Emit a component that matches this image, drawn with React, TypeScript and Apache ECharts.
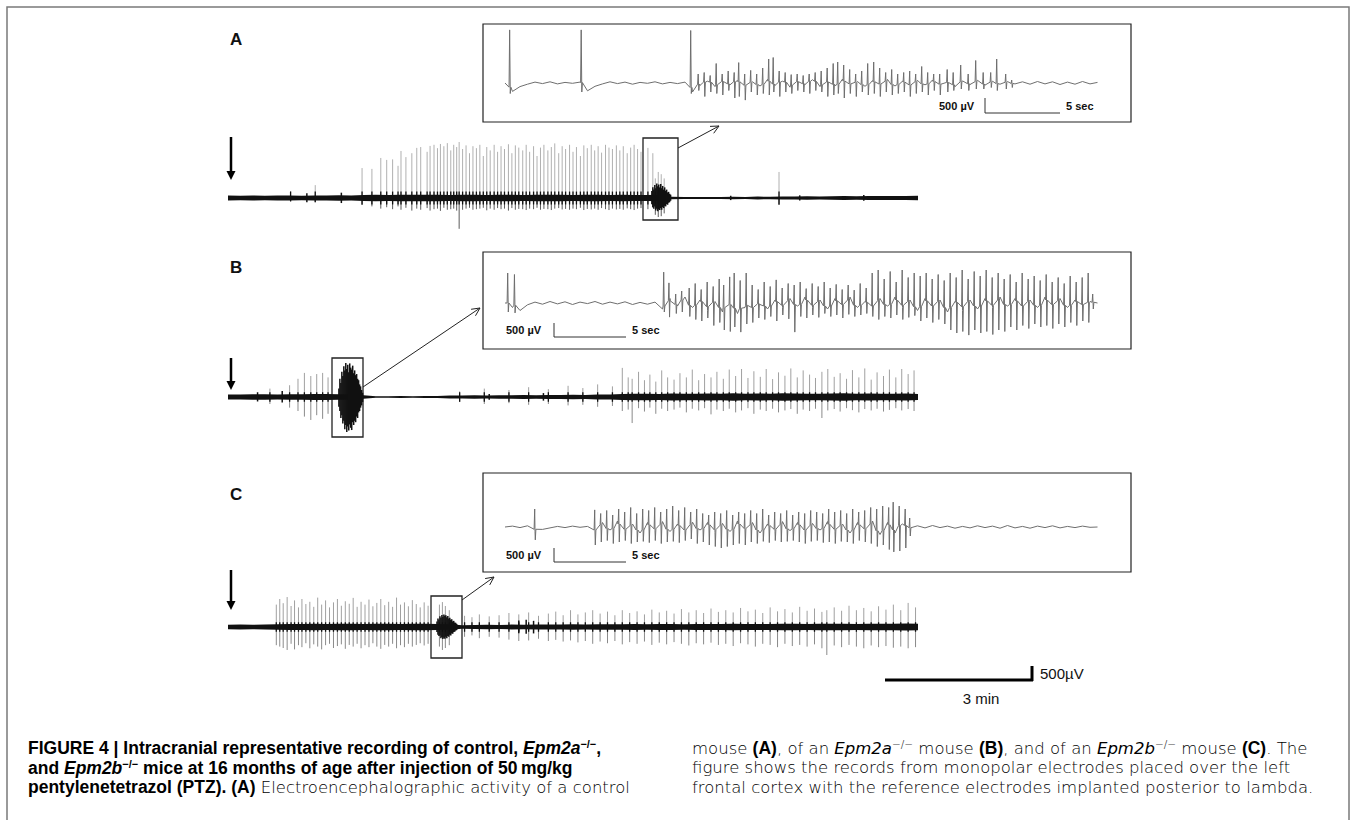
import React, { useEffect, useRef } from "react";
import * as echarts from "echarts";

// ---------- time bases (typed) ----------
const bandTimes = [0,0.25,0.5,0.75,1,1.25,1.5,1.75,2,2.25,2.5,2.75,3,3.25,3.5,3.75,4,4.25,4.5,4.75,5,5.25,5.5,5.75,6,6.25,6.5,6.75,7,7.25,7.5,7.75,8,8.25,8.5,8.75,9,9.25,9.5,9.75,10,10.25,10.5,10.75,11,11.25,11.5,11.75,12,12.25,12.5,12.75,13,13.25,13.5,13.75,14];
const insetTimes = [0,0.5,1,1.5,2,2.5,3,3.5,4,4.5,5,5.5,6,6.5,7,7.5,8,8.5,9,9.5,10,10.5,11,11.5,12,12.5,13,13.5,14,14.5,15,15.5,16,16.5,17,17.5,18,18.5,19,19.5,20,20.5,21,21.5,22,22.5,23,23.5,24,24.5,25,25.5,26,26.5,27,27.5,28,28.5,29,29.5,30,30.5,31,31.5,32,32.5,33,33.5,34,34.5,35,35.5,36,36.5,37,37.5,38,38.5,39,39.5];

// ---------- main traces (minutes, µV) ----------
const bandA = [85,80,90,80,85,90,80,85,90,95,90, 110,115,110,120,115,120,115,110,120,115,110,115,120,110,115,120,115,110,115,120,110,115,110,105, 120, 45,35,35,40,35,45,40,50,45,55,50,60,55,60,70,65,70,75,70,75,80];
const burstA = [[8.60,250,-220],[8.62,380,-320],[8.64,300,-380],[8.66,460,-300],[8.68,350,-450],[8.70,520,-380],[8.72,420,-470],[8.74,480,-400],[8.76,380,-430],[8.78,500,-360],[8.80,350,-420],[8.82,430,-330],[8.84,300,-360],[8.86,380,-280],[8.88,260,-300],[8.90,300,-220],[8.92,200,-240],[8.94,220,-170],[8.96,150,-150],[8.98,120,-100],
  [1.6,170,-150],[2.3,190,-180],[10.2,80,-75],[11.6,95,-90],[12.9,110,-100]];
const spikesA = [[1.27,250,-120],[1.77,460,-150],[2.72,1070,-250],[2.92,1040,-300],[3.10,1430,-380],[3.22,1360,-330],[3.34,1380,-400],[3.45,1150,-300],[3.51,1680,-420],[3.61,1460,-350],[3.73,1600,-450],[3.83,1790,-380],[3.91,1820,-420],[4.04,1650,-360],[4.10,1860,-450],[4.18,1900,-400],[4.25,1780,-380],[4.31,1930,-460],[4.38,1850,-350],[4.45,1960,-420],[4.52,1700,-400],[4.58,1900,-380],[4.64,1820,-450],[4.69,2000,-1100],[4.76,1750,-420],[4.83,1880,-380],[4.90,1600,-350],[4.97,1850,-420],[5.04,1780,-400],[5.11,1900,-380],[5.18,1500,-350],[5.25,1820,-440],[5.32,1700,-380],[5.40,1900,-420],[5.47,1650,-360],[5.54,1850,-400],[5.61,1750,-380],[5.69,1920,-450],[5.76,1600,-360],[5.83,1880,-420],[5.90,1800,-390],[5.98,1700,-400],[6.05,1900,-430],[6.12,1650,-380],[6.20,1850,-400],[6.27,1500,-350],[6.34,1800,-420],[6.41,1900,-390],[6.49,1700,-400],[6.56,1820,-430],[6.63,1950,-380],[6.71,1600,-360],[6.78,1850,-410],[6.85,1750,-390],[6.93,1900,-420],[7.00,1650,-380],[7.07,1820,-400],[7.15,1500,-350],[7.22,1880,-430],[7.29,1780,-390],[7.37,1900,-410],[7.44,1700,-380],[7.51,1850,-420],[7.58,1620,-360],[7.66,1900,-400],[7.73,1800,-430],[7.80,1750,-380],[7.88,1880,-410],[7.95,1700,-390],[8.02,1850,-420],[8.10,1600,-370],[8.17,1800,-400],[8.24,1900,-430],[8.31,1750,-380],[8.38,1650,-360],[8.52,1790,-400],[8.62,1600,-350],[8.67,700,-600],[8.73,930,-680],[8.79,850,-650],[8.85,700,-550],[11.18,930,-250]];

const bandB = [90,85,95,100,90,95,100,105,110, 100,100,60, 30,30,35,30,35,40, 50,55,60,55,65,60,70,65,75,70,80,75,85,90, 110,115,120,110,125,120,115,125,120,130,115,125,120,130,125,120,115,125,130,120,125,115,120,125,110];
const burstB = [[2.25,300,-350],[2.27,650,-500],[2.29,500,-750],[2.31,900,-650],[2.33,750,-950],[2.35,1100,-850],[2.37,950,-1150],[2.39,1210,-1000],[2.41,1000,-1250],[2.43,1150,-1050],[2.45,880,-1200],[2.47,1200,-980],[2.49,1050,-1100],[2.51,980,-1180],[2.53,1120,-900],[2.55,850,-1000],[2.57,950,-850],[2.59,780,-900],[2.61,820,-700],[2.63,650,-750],[2.65,600,-550],[2.67,450,-500],[2.69,380,-380],[2.71,250,-300],[2.73,150,-180],
  [0.6,170,-160],[1.1,210,-200],[5.3,110,-100],[6.4,140,-130]];
const spikesB = [[0.85,300,-250],[1.25,420,-380],[1.42,650,-500],[1.55,860,-700],[1.68,750,-820],[1.80,820,-650],[1.92,860,-780],[2.03,700,-600],[4.7,200,-180],[5.2,300,-250],[5.7,250,-220],[6.1,350,-280],[6.5,280,-250],[6.9,400,-300],[7.2,320,-280],[7.5,450,-350],[7.8,380,-320],
  [8.00,1040,-500],[8.12,700,-450],[8.20,650,-930],[8.33,900,-400],[8.45,600,-520],[8.56,800,-380],[8.68,550,-600],[8.80,950,-420],[8.92,700,-500],[9.05,620,-450],[9.17,850,-380],[9.30,700,-550],[9.42,980,-420],[9.55,600,-480],[9.67,820,-400],[9.80,700,-620],[9.92,900,-450],[10.05,650,-500],[10.17,980,-420],[10.30,750,-550],[10.42,1000,-480],[10.55,680,-400],[10.67,920,-600],[10.80,720,-450],[10.92,1000,-500],[11.05,640,-420],[11.17,880,-550],[11.30,760,-480],[11.42,1020,-430],[11.55,700,-600],[11.67,950,-450],[11.80,800,-500],[11.92,680,-420],[12.05,900,-750],[12.17,1000,-480],[12.30,720,-430],[12.42,850,-520],[12.55,650,-400],[12.67,960,-470],[12.80,700,-550],[12.92,1020,-430],[13.05,620,-480],[13.17,880,-420],[13.30,750,-520],[13.42,980,-460],[13.55,700,-400],[13.67,1000,-480],[13.80,820,-430],[13.92,950,-500]];

const bandC = [80,85,80,90, 100,110,105,115,110,120,115,110,120,115,110,115,120, 110,100, 60,70,80,75,85,80,90,85,90,95,90,100,95,100,105,100,110,105,100,110,105,110,115,110,105,110,115,120,110,115,120,115,110,120,115,120,125,120];
const burstC = [[4.24,200,-180],[4.26,300,-280],[4.28,260,-320],[4.30,380,-300],[4.32,330,-400],[4.34,430,-360],[4.36,360,-430],[4.38,450,-380],[4.40,400,-420],[4.42,420,-350],[4.44,350,-400],[4.46,390,-320],[4.48,300,-350],[4.50,330,-280],[4.52,260,-300],[4.54,280,-230],[4.56,200,-240],[4.58,220,-180],[4.60,160,-170],[4.62,150,-130],[4.64,110,-110],
  [5.9,230,-220],[6.05,260,-240],[6.2,220,-230]];
const spikesC = [[0.98,800,-650],[1.05,1000,-700],[1.12,850,-750],[1.2,1070,-820],[1.28,750,-600],[1.35,950,-800],[1.43,700,-650],[1.5,1000,-720],[1.58,820,-580],[1.66,900,-760],[1.74,720,-620],[1.82,1050,-700],[1.9,800,-800],[1.98,950,-650],[2.06,700,-600],[2.14,880,-750],[2.22,1000,-680],[2.3,760,-620],[2.38,920,-780],[2.46,830,-640],[2.54,1040,-700],[2.62,720,-600],[2.7,900,-760],[2.78,800,-650],[2.86,980,-720],[2.94,740,-580],[3.02,860,-700],[3.1,1000,-780],[3.18,780,-640],[3.26,900,-700],[3.34,720,-600],[3.42,1050,-760],[3.5,800,-650],[3.58,880,-720],[3.66,740,-600],[3.74,960,-700],[3.82,820,-640],[3.9,700,-580],[3.98,880,-660],[4.06,760,-600],
  [4.29,800,-700],[4.35,890,-820],[4.41,750,-750],[4.49,600,-650],
  [4.8,400,-350],[4.95,350,-300],[5.1,450,-400],[5.3,380,-350],[5.5,420,-380],[5.7,500,-450],[5.9,450,-500],[6.1,520,-480],[6.3,400,-420],[6.5,480,-500],[6.65,550,-460],[6.8,420,-520],[6.95,600,-480],[7.1,450,-550],[7.25,520,-500],[7.4,600,-600],[7.55,480,-520],[7.7,550,-580],[7.85,420,-500],[8.0,600,-620],[8.15,500,-540],[8.3,560,-600],[8.45,450,-520],[8.6,620,-640],[8.75,520,-560],[8.9,580,-620],[9.05,480,-540],[9.2,640,-600],[9.35,520,-660],[9.5,600,-580],[9.65,500,-620],[9.8,660,-560],[9.95,540,-640],[10.1,600,-600],[10.25,520,-680],[10.4,680,-580],[10.55,560,-620],[10.7,620,-700],[10.85,500,-600],[11.0,700,-640],[11.15,560,-720],[11.3,640,-600],[11.45,520,-680],[11.6,720,-640],[11.75,580,-700],[11.9,660,-620],[12.05,540,-760],[12.15,600,-1000],[12.3,700,-660],[12.45,580,-720],[12.6,760,-640],[12.75,600,-700],[12.9,680,-760],[13.05,560,-660],[13.2,740,-720],[13.35,620,-680],[13.5,800,-740],[13.65,600,-700],[13.8,860,-760],[13.95,700,-720]];

// ---------- insets (seconds, µV) ----------
const inBaseA = [0,-280,-120,-40,30,-20,40,-30,20,-10,30,-260,-110,-30,40,-20,30,-40,20,-10,40,-30,20,-20,30,
  -300,-80,60,-120,100,-60,80,-150,40,-100,120,-80,60,-140,90,-50,110,-120,70,-90,130,-60,50,-110,80,-70,120,-100,60,-130,90,-60,100,-80,40,-120,70,-50,90,-70,60,-40,50,-30,
  40,-40,50,-30,40,-50,30,-40,50,-30,20];
const inSpikesA = [[0.33,1770,-350],[5.1,1770,-300],[12.4,1750,-350],[12.9,300,-250],[13.3,350,-450],[13.7,250,-300],[14.1,650,-350],[14.5,300,-400],[14.9,400,-250],[15.3,350,-500],[15.6,680,-450],[16.0,300,-570],[16.4,420,-300],[16.8,300,-400],[17.2,500,-350],[17.6,800,-400],[17.9,850,-300],[18.3,400,-450],[18.7,350,-300],[19.1,280,-350],[19.5,300,-250],[19.9,250,-300],[20.3,300,-350],[20.7,350,-250],[21.1,400,-300],[21.5,500,-450],[21.9,650,-400],[22.2,700,-350],[22.6,600,-500],[23.0,450,-350],[23.4,300,-450],[23.8,400,-300],[24.2,650,-400],[24.6,700,-350],[25.0,500,-450],[25.4,350,-300],[25.8,450,-400],[26.2,300,-350],[26.6,350,-300],[27.0,400,-450],[27.4,300,-350],[27.8,550,-300],[28.2,350,-400],[28.6,300,-250],[29.0,300,-400],[29.5,450,-300],[29.9,350,-250],[30.4,600,-200],[30.9,300,-250],[31.4,750,-200],[31.9,350,-200],[32.4,350,-150],[32.8,800,-250],[33.4,300,-200],[33.8,100,-150]];

const inBaseB = [0,-150,-250,-60,30,-40,50,-30,40,-50,30,-20,50,-40,30,-30,40,-50,20,-40,30,
  -200,150,-100,200,-150,100,-250,50,-300,-100,-350,-150,-300,-50,-200,100,-150,150,-100,200,-150,100,-200,150,-100,200,-150,50,-200,150,-100,200,-150,100,-250,150,-200,100,-300,50,-250,100,-200,150,-150,200,-100,150,-200,100,-150,200,-100,150,-150,100,-100,50,0];
const inSpikesB = [[0.2,1000,-300],[0.65,950,-330],[10.6,1030,-300],[10.95,670,-470],[11.4,300,-350],[11.8,400,-300],[12.3,500,-450],[12.7,650,-550],[13.1,450,-600],[13.5,700,-500],[13.9,550,-750],[14.3,800,-650],[14.6,600,-900],[15.0,870,-950],[15.3,1000,-800],[15.7,750,-970],[16.1,1000,-700],[16.5,600,-650],[16.9,450,-500],[17.3,700,-550],[17.7,550,-450],[18.1,770,-600],[18.5,500,-400],[18.9,650,-530],[19.3,600,-970],[19.7,700,-450],[20.1,480,-500],[20.5,650,-400],[20.9,550,-480],[21.3,700,-350],[21.7,500,-450],[22.1,620,-400],[22.5,450,-500],[22.9,600,-380],[23.3,430,-450],[23.7,650,-400],[24.1,500,-350],[24.5,1000,-450],[24.9,1100,-550],[25.3,800,-450],[25.7,1050,-500],[26.1,700,-400],[26.5,1100,-550],[26.9,850,-480],[27.3,1000,-420],[27.7,900,-600],[28.1,1000,-500],[28.5,800,-650],[28.9,950,-550],[29.3,750,-700],[29.7,1000,-900],[30.1,850,-1000],[30.5,1100,-950],[30.9,800,-1070],[31.3,1050,-900],[31.7,900,-1000],[32.1,1100,-950],[32.5,850,-1050],[32.9,1000,-900],[33.3,800,-950],[33.7,950,-800],[34.1,700,-900],[34.5,1000,-750],[34.9,800,-850],[35.3,900,-700],[35.7,750,-800],[36.1,950,-750],[36.5,700,-850],[36.9,850,-700],[37.3,650,-800],[37.7,900,-650],[38.1,700,-750],[38.5,850,-600],[38.9,1000,-650],[39.2,300,-200]];

const inBaseC = [0,30,-20,40,-150,-80,-30,20,-20,30,-10,20,
  -200,150,-100,200,-150,100,-200,150,-120,180,-150,100,-200,160,-100,150,-180,120,-150,200,-100,150,-200,100,-150,180,-120,150,-200,120,-100,180,-150,100,-200,150,-120,200,-250,150,-200,100,-50,
  40,-30,50,-20,30,-40,20,-30,40,-20,30,-40,50,-30,20,-40,30,-20,40,-30,20,-20,30,-10,0];
const inSpikesC = [[2.0,600,-430],[6.0,570,-600],[6.4,450,-500],[6.8,550,-450],[7.2,400,-550],[7.6,600,-500],[8.0,500,-450],[8.4,650,-550],[8.8,450,-500],[9.2,600,-480],[9.6,550,-520],[10.0,650,-450],[10.4,500,-550],[10.8,600,-500],[11.2,700,-480],[11.6,550,-520],[12.0,650,-450],[12.4,500,-400],[12.8,600,-550],[13.2,450,-500],[13.6,400,-600],[14.0,500,-650],[14.4,450,-700],[14.8,550,-650],[15.2,400,-600],[15.6,500,-550],[16.0,450,-600],[16.4,550,-500],[16.8,450,-550],[17.2,600,-480],[17.6,400,-520],[18.0,500,-450],[18.4,450,-500],[18.8,550,-480],[19.2,400,-450],[19.6,500,-500],[20.0,450,-550],[20.4,550,-480],[20.8,500,-450],[21.2,450,-520],[21.6,600,-500],[22.0,500,-550],[22.4,550,-480],[22.8,450,-500],[23.2,600,-550],[23.6,500,-450],[24.0,550,-500],[24.4,650,-550],[24.8,600,-650],[25.2,700,-600],[25.6,650,-750],[25.9,830,-830],[26.3,700,-800],[26.7,600,-700],[27.0,300,-300]];

// ---------- text ----------
const panelLabels = ["A", "B", "C"];
const insetScaleV = "500 µV";
const insetScaleT = "5 sec";
const mainScaleV = "500µV";
const mainScaleT = "3 min";

const FONT = "'Liberation Sans', Arial, sans-serif";
const LIGHT = "'DejaVu Sans', 'Open Sans', sans-serif";

function spikeSeries(data: number[][], axis: number, upColor: string, downColor: string, core: number, z: number, width = 1) {
  return {
    type: "custom", xAxisIndex: axis, yAxisIndex: axis, data, z, silent: true,
    renderItem: (_p: any, api: any) => {
      const t = api.value(0), top = api.value(1), bot = api.value(2);
      const pT = api.coord([t, top]), p0 = api.coord([t, 0]), pB = api.coord([t, bot]);
      const children: any[] = [
        { type: "line", shape: { x1: pT[0], y1: pT[1], x2: p0[0], y2: p0[1] }, style: { stroke: upColor, lineWidth: width } },
        { type: "line", shape: { x1: p0[0], y1: p0[1], x2: pB[0], y2: pB[1] }, style: { stroke: downColor, lineWidth: width } },
      ];
      if (core > 0) {
        const c1 = api.coord([t, Math.min(top, core)]), c2 = api.coord([t, Math.max(bot, -core)]);
        children.push({ type: "line", shape: { x1: c1[0], y1: c1[1], x2: c2[0], y2: c2[1] }, style: { stroke: "#111", lineWidth: 1.3 } });
      }
      return { type: "group", children };
    },
  };
}
function bandSeries(times: number[], band: number[], axis: number) {
  return {
    type: "custom", xAxisIndex: axis, yAxisIndex: axis, data: [[0, 0]], z: 3, silent: true,
    renderItem: (_p: any, api: any) => {
      const up = times.map((t, i) => api.coord([t, band[i]]));
      const dn = times.map((t, i) => api.coord([t, -band[i]])).reverse();
      return { type: "polygon", shape: { points: up.concat(dn) }, style: { fill: "#111" } };
    },
  };
}
// inset trace: baseline samples with each spike inserted as a short up-down excursion
function traceSeries(times: number[], vals: number[], spikes: number[][], axis: number) {
  const pts: number[][] = vals.map((v, i) => [times[i], v]);
  spikes.forEach((s) => {
    const b = vals[Math.min(vals.length - 1, Math.round(s[0] / 0.5))];
    pts.push([s[0] - 0.06, b * 0.5], [s[0] - 0.02, s[1]], [s[0] + 0.02, s[2]], [s[0] + 0.06, b * 0.5]);
  });
  pts.sort((a, b) => a[0] - b[0]);
  return {
    type: "line", xAxisIndex: axis, yAxisIndex: axis, showSymbol: false, silent: true, z: 3,
    data: pts, lineStyle: { color: "#6e6e6e", width: 1 },
  };
}
function arrowHead(x1: number, y1: number, x2: number, y2: number, len = 9) {
  const a = Math.atan2(y2 - y1, x2 - x1);
  const p1 = [x2 - len * Math.cos(a - 0.45), y2 - len * Math.sin(a - 0.45)];
  const p2 = [x2 - len * Math.cos(a + 0.45), y2 - len * Math.sin(a + 0.45)];
  return [
    { type: "line", shape: { x1, y1, x2, y2 }, style: { stroke: "#222", lineWidth: 1 } },
    { type: "polyline", shape: { points: [p1, [x2, y2], p2] }, style: { stroke: "#222", lineWidth: 1, fill: null } },
  ];
}
function downArrow(x: number, y1: number, tip: number) {
  return [
    { type: "line", shape: { x1: x, y1, x2: x, y2: tip - 6 }, style: { stroke: "#000", lineWidth: 2.5 } },
    { type: "polygon", shape: { points: [[x - 4.5, tip - 9], [x + 4.5, tip - 9], [x, tip]] }, style: { fill: "#000" } },
  ];
}
function insetScale(tx: number, ty: number, bx: number, btop: number, bbot: number, blen: number) {
  const ts = { fontFamily: FONT, fontSize: 11, fontWeight: "bold", fill: "#111", verticalAlign: "middle" };
  return [
    { type: "text", x: tx, y: ty, style: { ...ts, text: insetScaleV, align: "left" } },
    { type: "polyline", shape: { points: [[bx, btop], [bx, bbot], [bx + blen, bbot]] }, style: { stroke: "#333", lineWidth: 1, fill: null } },
    { type: "text", x: bx + blen + 6, y: ty, style: { ...ts, text: insetScaleT, align: "left" } },
  ];
}

const LH = 19;
const rich = {
  b: { fontFamily: FONT, fontSize: 17.5, fontWeight: "bold", color: "#111", lineHeight: LH },
  bi: { fontFamily: FONT, fontSize: 17.5, fontWeight: "bold", fontStyle: "italic", color: "#111", lineHeight: LH },
  bs: { fontFamily: FONT, fontSize: 11, fontWeight: "bold", color: "#111", lineHeight: 11, verticalAlign: "top" },
  r: { fontFamily: LIGHT, fontSize: 16.5, fontWeight: 200, color: "#333", lineHeight: LH },
  ri: { fontFamily: LIGHT, fontSize: 16.5, fontWeight: 200, fontStyle: "italic", color: "#333", lineHeight: LH },
  rs: { fontFamily: LIGHT, fontSize: 10.5, fontWeight: 200, color: "#333", lineHeight: 11, verticalAlign: "top" },
};
const captionLeft = [
  "{b|FIGURE 4 | Intracranial representative recording of control, }{bi|Epm2a}{bs|−/−}{b|,}",
  "{b|and }{bi|Epm2b}{bs|−/−}{b| mice at 16 months of age after injection of 50\u2009mg/kg}",
  "{b|pentylenetetrazol (PTZ). (A)}{r| Electroencephalographic activity of a control}",
];
const captionRight = [
  "{r|mouse }{b|(A)}{r|, of an }{ri|Epm2a}{rs|−/−}{r| mouse }{b|(B)}{r|, and of an }{ri|Epm2b}{rs|−/−}{r| mouse }{b|(C)}{r|. The}",
  "{r|figure shows the records from monopolar electrodes placed over the left}",
  "{r|frontal cortex with the reference electrodes implanted posterior to lambda.}",
];

export default function App() {
  const ref = useRef<HTMLDivElement>(null);
  useEffect(() => {
    document.body.style.margin = "0";
    const chart = echarts.init(ref.current!, null, { renderer: "svg" });
    const grids = [
      { left: 228, top: 128, width: 690, height: 140 },
      { left: 228, top: 327, width: 690, height: 140 },
      { left: 228, top: 557, width: 690, height: 140 },
      { left: 505, top: 8, width: 600, height: 150 },
      { left: 505, top: 228, width: 600, height: 150 },
      { left: 505, top: 452, width: 600, height: 150 },
    ];
    const xAxis = grids.map((_, i) => ({ type: "value", gridIndex: i, min: 0, max: i < 3 ? 14 : 40, show: false }));
    const yAxis = grids.map((_, i) => ({ type: "value", gridIndex: i, min: -2500, max: 2500, show: false }));
    const series: any[] = [
      spikeSeries(spikesA, 0, "#b0b0b0", "#5a5a5a", 230, 2), bandSeries(bandTimes, bandA, 0), spikeSeries(burstA, 0, "#111", "#111", 0, 4, 1.5),
      spikeSeries(spikesB, 1, "#a0a0a0", "#8a8a8a", 170, 2), bandSeries(bandTimes, bandB, 1), spikeSeries(burstB, 1, "#111", "#111", 0, 4, 1.5),
      spikeSeries(spikesC, 2, "#a0a0a0", "#8a8a8a", 170, 2), bandSeries(bandTimes, bandC, 2), spikeSeries(burstC, 2, "#111", "#111", 0, 4, 1.5),
      traceSeries(insetTimes, inBaseA, inSpikesA, 3),
      traceSeries(insetTimes, inBaseB, inSpikesB, 4),
      traceSeries(insetTimes, inBaseC, inSpikesC, 5),
    ];
    const labelStyle = { fontFamily: FONT, fontSize: 17, fontWeight: "bold", fill: "#111", verticalAlign: "middle" };
    const box = (x: number, y: number, w: number, h: number, lw = 1.2) =>
      ({ type: "rect", shape: { x, y, width: w, height: h }, style: { stroke: "#222", lineWidth: lw, fill: null } });
    const graphic: any[] = [
      { type: "polyline", shape: { points: [[7, 830], [7, 7], [1349, 7], [1349, 830]] }, style: { stroke: "#7a7a7a", lineWidth: 1.5, fill: null } },
      { type: "text", x: 230, y: 39, style: { ...labelStyle, text: panelLabels[0] } },
      { type: "text", x: 230, y: 267, style: { ...labelStyle, text: panelLabels[1] } },
      { type: "text", x: 230, y: 494, style: { ...labelStyle, text: panelLabels[2] } },
      box(483, 24, 648, 98), box(483, 252, 648, 97), box(483, 473, 648, 99),
      box(643, 138, 35, 82, 1.3), box(332, 358, 31, 79, 1.3), box(431, 596, 31, 62, 1.3),
      ...arrowHead(678, 148, 719, 126), ...arrowHead(363, 387, 480, 308), ...arrowHead(462, 600, 494, 577),
      ...downArrow(231, 137, 180), ...downArrow(231, 358, 390), ...downArrow(231, 570, 610),
      ...insetScale(939, 106, 985, 98, 113, 75),
      ...insetScale(506, 330, 554, 323, 337, 72),
      ...insetScale(506, 555, 554, 548, 562, 72),
      { type: "line", shape: { x1: 885, y1: 680, x2: 1033, y2: 680 }, style: { stroke: "#000", lineWidth: 3 } },
      { type: "line", shape: { x1: 1032, y1: 666, x2: 1032, y2: 681 }, style: { stroke: "#000", lineWidth: 3 } },
      { type: "text", x: 1040, y: 673, style: { text: mainScaleV, fontFamily: FONT, fontSize: 15, fill: "#111", verticalAlign: "middle" } },
      { type: "text", x: 981, y: 698, style: { text: mainScaleT, fontFamily: FONT, fontSize: 15, fill: "#111", align: "center", verticalAlign: "middle" } },
      ...captionLeft.map((t, i) => ({ type: "text", x: 28, y: 748 + i * 19.5, style: { text: t, rich, verticalAlign: "middle" } })),
      ...captionRight.map((t, i) => ({ type: "text", x: 692, y: 748 + i * 19.5, style: { text: t, rich, verticalAlign: "middle" } })),
    ];
    chart.setOption({ animation: false, backgroundColor: "#fff", grid: grids, xAxis, yAxis, series, graphic });
    return () => chart.dispose();
  }, []);
  return <div ref={ref} style={{ width: 1355, height: 820 }} />;
}
